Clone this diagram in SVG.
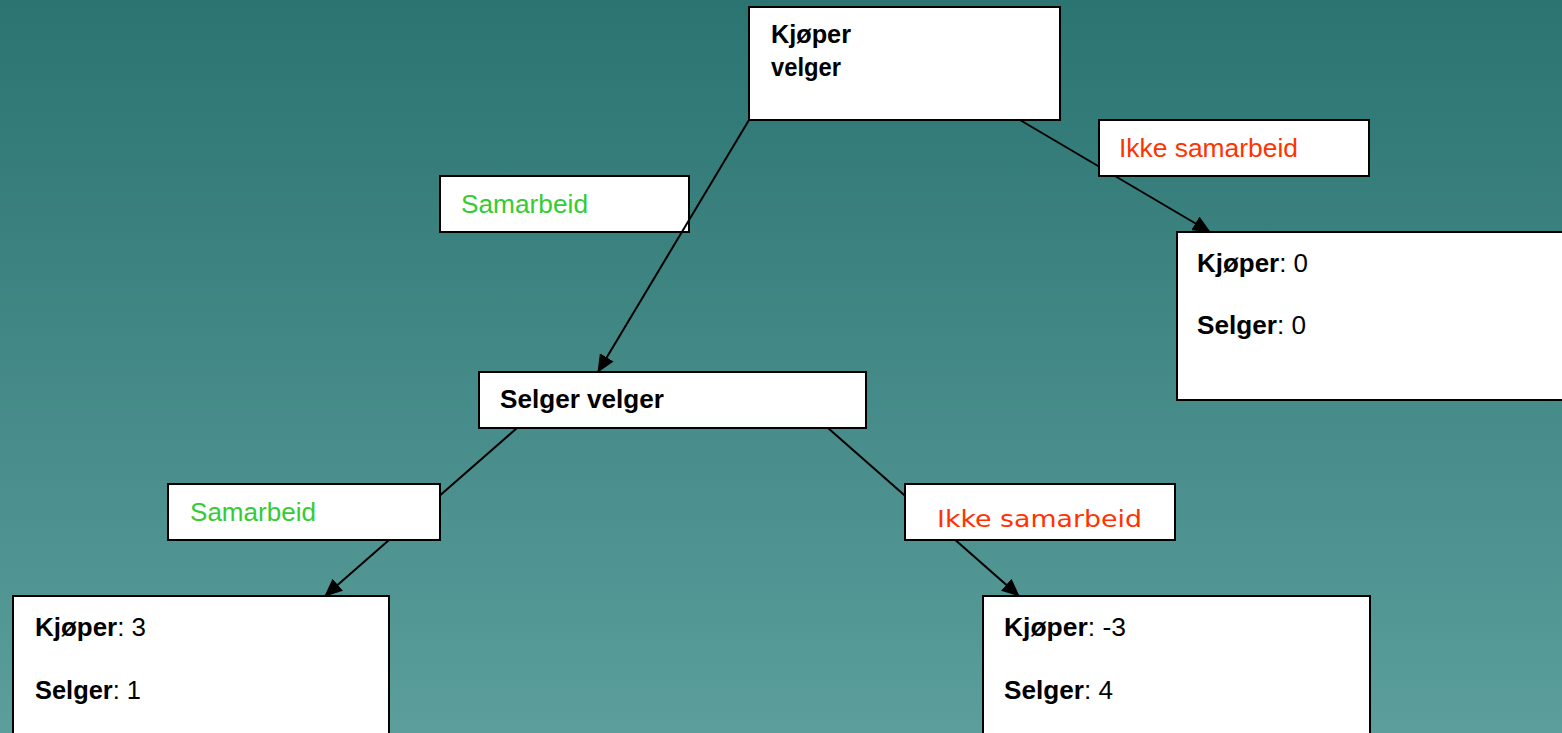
<svg xmlns="http://www.w3.org/2000/svg" width="1562" height="733" viewBox="0 0 1562 733">
<defs>
<linearGradient id="bg" x1="0" y1="0" x2="0" y2="1">
<stop offset="0" stop-color="#2b7471"/>
<stop offset="1" stop-color="#5b9e9c"/>
</linearGradient>
<marker id="arr" markerUnits="userSpaceOnUse" markerWidth="18" markerHeight="16" viewBox="0 0 18 16" refX="17" refY="8" orient="auto">
<path d="M0,0 L18,8 L0,16 Z" fill="#000"/>
</marker>
<style>
.box{fill:#fff;stroke:#000;stroke-width:2}
.t{font-family:"Liberation Sans",Arial,sans-serif;font-size:25px;fill:#000}
.b{font-weight:bold}
.g{fill:#33cc33}
.r{fill:#ff3300}
.v{font-family:"DejaVu Sans",Verdana,sans-serif;font-size:23.5px}
.c{stroke:#000;stroke-width:2;fill:none;marker-end:url(#arr)}
</style>
</defs>
<rect x="0" y="0" width="1562" height="733" fill="url(#bg)"/>

<g id="label-samarbeid-1">
<rect class="box" x="440" y="176" width="249" height="56"/>
<text class="t g" x="461" y="213" textLength="127" lengthAdjust="spacingAndGlyphs">Samarbeid</text>
</g>

<g id="connectors">
<line class="c" x1="749" y1="120" x2="598" y2="372"/>
<line class="c" x1="1020" y1="120" x2="1210" y2="232"/>
<line class="c" x1="517" y1="428" x2="325" y2="596"/>
<line class="c" x1="828" y1="428" x2="1019" y2="596"/>
</g>

<g id="node-kjoper-velger">
<rect class="box" x="749" y="7" width="311" height="113"/>
<text class="t b" x="771" y="43" textLength="80" lengthAdjust="spacingAndGlyphs">Kjøper</text>
<text class="t b" x="771" y="76" textLength="70" lengthAdjust="spacingAndGlyphs">velger</text>
</g>

<g id="label-ikke-samarbeid-1">
<rect class="box" x="1099" y="120" width="270" height="56"/>
<text class="t r" x="1119" y="157" textLength="179" lengthAdjust="spacingAndGlyphs">Ikke samarbeid</text>
</g>

<g id="node-payoff-0-0">
<rect class="box" x="1177" y="232" width="400" height="168"/>
<text class="t" x="1197" y="272" textLength="111" lengthAdjust="spacingAndGlyphs"><tspan class="b">Kjøper</tspan>: 0</text>
<text class="t" x="1197" y="334" textLength="109" lengthAdjust="spacingAndGlyphs"><tspan class="b">Selger</tspan>: 0</text>
</g>

<g id="node-selger-velger">
<rect class="box" x="479" y="372" width="387" height="56"/>
<text class="t b" x="500" y="408" textLength="164" lengthAdjust="spacingAndGlyphs">Selger velger</text>
</g>

<g id="label-samarbeid-2">
<rect class="box" x="168" y="484" width="272" height="56"/>
<text class="t g" x="190" y="521" textLength="126" lengthAdjust="spacingAndGlyphs">Samarbeid</text>
</g>

<g id="label-ikke-samarbeid-2">
<rect class="box" x="905" y="484" width="270" height="56"/>
<text class="v r" x="937" y="527" textLength="205" lengthAdjust="spacingAndGlyphs">Ikke samarbeid</text>
</g>

<g id="node-payoff-3-1">
<rect class="box" x="13" y="596" width="376" height="150"/>
<text class="t" x="35" y="636" textLength="111" lengthAdjust="spacingAndGlyphs"><tspan class="b">Kjøper</tspan>: 3</text>
<text class="t" x="35" y="699" textLength="106" lengthAdjust="spacingAndGlyphs"><tspan class="b">Selger</tspan>: 1</text>
</g>

<g id="node-payoff-m3-4">
<rect class="box" x="983" y="596" width="387" height="150"/>
<text class="t" x="1004" y="636" textLength="122" lengthAdjust="spacingAndGlyphs"><tspan class="b">Kjøper</tspan>: -3</text>
<text class="t" x="1004" y="699" textLength="109" lengthAdjust="spacingAndGlyphs"><tspan class="b">Selger</tspan>: 4</text>
</g>
</svg>
